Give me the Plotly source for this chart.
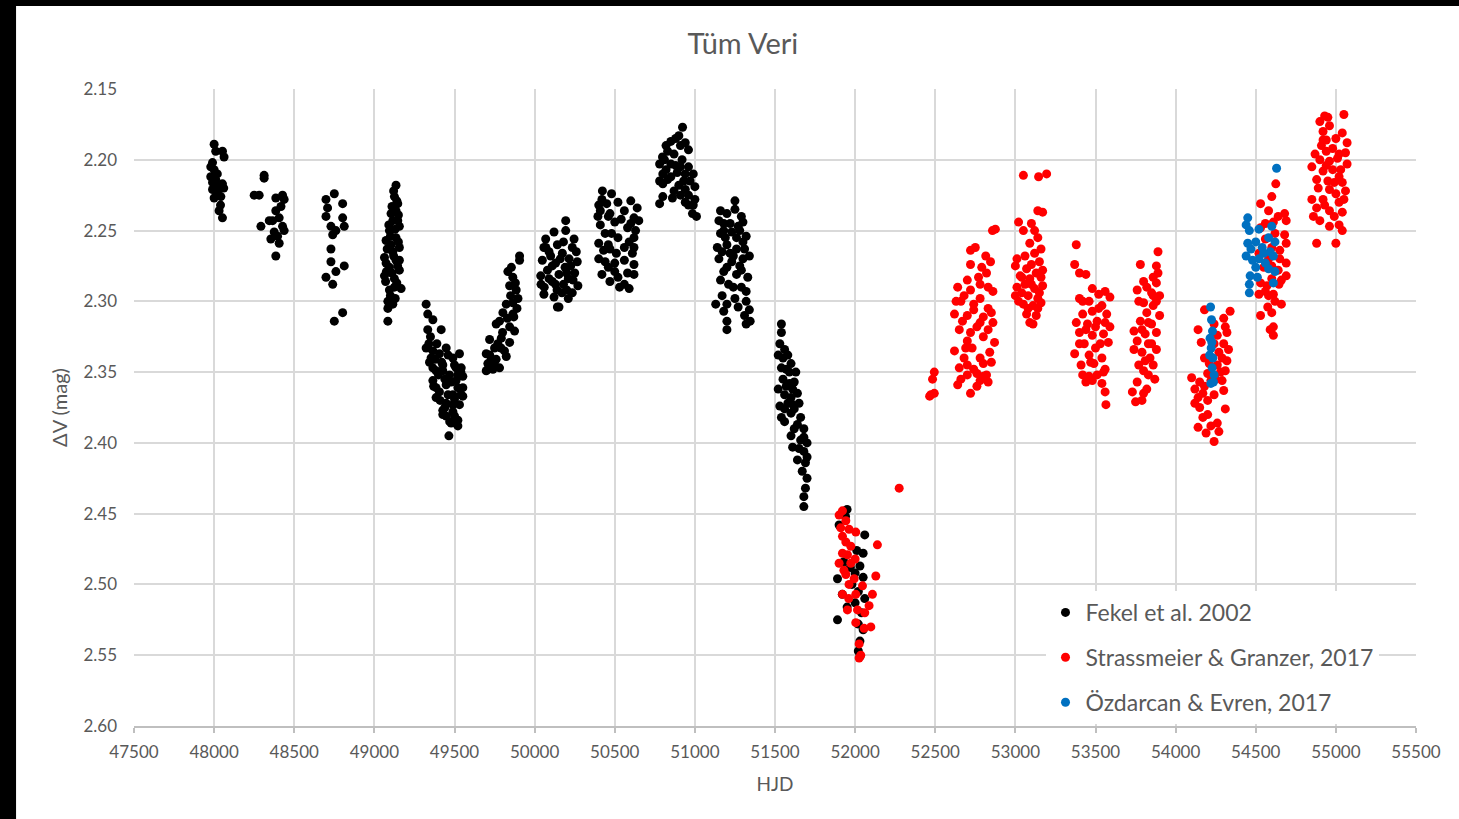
import plotly.graph_objects as go

# (HJD, delta V) pairs, season by season
fekel = [
    # ~48000
    (48000, 2.189), (48052, 2.194), (48062, 2.198), (48010, 2.194), (47990, 2.202), (47979, 2.205),
    (48000, 2.207), (47979, 2.212), (48010, 2.214), (48052, 2.217), (48031, 2.219), (47990, 2.221),
    (48021, 2.224), (48042, 2.226), (48000, 2.227), (48031, 2.236), (48052, 2.241),
    (48020, 2.210), (47990, 2.216), (48040, 2.232), (48060, 2.220),
    # ~48350
    (48250, 2.225), (48281, 2.225), (48312, 2.211), (48312, 2.213), (48292, 2.247), (48344, 2.243),
    (48354, 2.256), (48385, 2.227), (48427, 2.225), (48437, 2.228), (48385, 2.236), (48406, 2.241),
    (48427, 2.247), (48396, 2.254), (48406, 2.259), (48385, 2.268), (48365, 2.243), (48417, 2.233),
    (48375, 2.251), (48437, 2.250),
    # ~48750
    (48698, 2.228), (48750, 2.224), (48802, 2.231), (48698, 2.240), (48802, 2.241), (48729, 2.247),
    (48812, 2.247), (48740, 2.253), (48729, 2.263), (48729, 2.272), (48812, 2.275), (48760, 2.279),
    (48698, 2.283), (48740, 2.288), (48750, 2.314), (48802, 2.308), (48708, 2.234), (48760, 2.250),
    # ~49100
    (49135, 2.218), (49125, 2.226), (49135, 2.236), (49115, 2.243), (49156, 2.247), (49094, 2.250),
    (49135, 2.255), (49073, 2.257), (49156, 2.262), (49115, 2.265), (49063, 2.269), (49135, 2.271),
    (49094, 2.276), (49156, 2.278), (49063, 2.282), (49125, 2.284), (49167, 2.291), (49094, 2.292),
    (49084, 2.300), (49115, 2.302), (49084, 2.305), (49084, 2.314), (49146, 2.243), (49104, 2.238),
    (49156, 2.271), (49073, 2.273), (49125, 2.290), (49104, 2.260), (49146, 2.231),
    (49120, 2.222), (49140, 2.229), (49110, 2.233), (49150, 2.239), (49090, 2.246), (49130, 2.249),
    (49100, 2.254), (49150, 2.258), (49080, 2.263), (49120, 2.268), (49145, 2.275), (49075, 2.279),
    (49110, 2.280), (49140, 2.287), (49100, 2.296), (49130, 2.298), (49070, 2.286),
    # ~49450
    (49323, 2.302), (49333, 2.309), (49365, 2.313), (49333, 2.320), (49417, 2.320),
    (49323, 2.333), (49365, 2.335), (49448, 2.333), (49406, 2.337), (49490, 2.340), (49531, 2.337),
    (49344, 2.343), (49427, 2.345), (49510, 2.347), (49385, 2.349), (49469, 2.352), (49552, 2.353),
    (49365, 2.356), (49448, 2.359), (49521, 2.361), (49406, 2.364), (49490, 2.366), (49552, 2.367),
    (49385, 2.368), (49448, 2.372), (49531, 2.373), (49427, 2.377), (49490, 2.378), (49448, 2.381),
    (49521, 2.384), (49479, 2.386), (49521, 2.388), (49465, 2.395), (49354, 2.340), (49427, 2.349),
    (49542, 2.347), (49385, 2.361), (49510, 2.356), (49427, 2.380), (49365, 2.347), (49490, 2.373),
    (49552, 2.361),
    (49340, 2.330), (49380, 2.341), (49420, 2.343), (49460, 2.338), (49500, 2.345), (49540, 2.350),
    (49400, 2.352), (49440, 2.355), (49480, 2.357), (49520, 2.352), (49370, 2.360), (49410, 2.370),
    (49460, 2.366), (49500, 2.369), (49540, 2.366), (49440, 2.375), (49470, 2.385), (49500, 2.381),
    (49350, 2.325), (49390, 2.330),
    # ~49800
    (49906, 2.268), (49906, 2.271), (49833, 2.279), (49864, 2.283), (49844, 2.289), (49885, 2.292),
    (49896, 2.298), (49823, 2.302), (49802, 2.308), (49864, 2.309), (49760, 2.316), (49844, 2.318),
    (49875, 2.321), (49719, 2.327), (49792, 2.326), (49844, 2.329), (49750, 2.333), (49812, 2.335),
    (49698, 2.337), (49760, 2.341), (49708, 2.344), (49781, 2.347), (49698, 2.349), (49740, 2.348),
    (49823, 2.339), (49781, 2.314), (49864, 2.301), (49729, 2.342),
    (49720, 2.338), (49770, 2.330), (49800, 2.322), (49830, 2.312), (49850, 2.296), (49880, 2.287),
    (49710, 2.348), (49750, 2.345), (49790, 2.333), (49870, 2.311), (49890, 2.305), (49855, 2.276),
    # ~50150
    (50194, 2.243), (50121, 2.251), (50069, 2.256), (50194, 2.250), (50246, 2.256), (50058, 2.262),
    (50142, 2.260), (50235, 2.262), (50100, 2.268), (50173, 2.266), (50215, 2.270), (50266, 2.272),
    (50048, 2.271), (50131, 2.273), (50190, 2.276), (50080, 2.278), (50250, 2.280), (50152, 2.281),
    (50038, 2.282), (50210, 2.284), (50110, 2.286), (50270, 2.289), (50060, 2.290), (50180, 2.288),
    (50140, 2.292), (50235, 2.294), (50058, 2.295), (50121, 2.297), (50152, 2.304), (50142, 2.304),
    (50090, 2.265), (50225, 2.275),
    (50070, 2.262), (50110, 2.275), (50160, 2.270), (50200, 2.280), (50240, 2.285), (50090, 2.284),
    (50130, 2.288), (50170, 2.294), (50210, 2.298), (50260, 2.265), (50040, 2.288), (50180, 2.258),
    (50200, 2.292),
    # ~50500
    (50423, 2.222), (50480, 2.224), (50600, 2.229), (50400, 2.232), (50450, 2.231), (50520, 2.230),
    (50640, 2.234), (50395, 2.240), (50470, 2.238), (50560, 2.236), (50620, 2.241), (50410, 2.246),
    (50500, 2.244), (50580, 2.248), (50440, 2.252), (50630, 2.250), (50520, 2.255), (50400, 2.259),
    (50460, 2.260), (50590, 2.258), (50620, 2.255), (50430, 2.264), (50510, 2.266), (50400, 2.270),
    (50560, 2.271), (50460, 2.276), (50620, 2.274), (50420, 2.281), (50520, 2.283), (50620, 2.281),
    (50470, 2.286), (50560, 2.288), (50590, 2.291), (50500, 2.279),
    (50420, 2.228), (50460, 2.240), (50540, 2.242), (50600, 2.245), (50480, 2.252), (50560, 2.262),
    (50610, 2.266), (50440, 2.272), (50500, 2.273), (50580, 2.280), (50410, 2.236), (50650, 2.243),
    (50470, 2.263), (50530, 2.290), (50620, 2.262),
    # ~50900
    (50923, 2.177), (50850, 2.187), (50900, 2.183), (50960, 2.193), (50798, 2.198), (50830, 2.194),
    (50870, 2.196), (50920, 2.200), (50780, 2.203), (50960, 2.205), (50820, 2.207), (50890, 2.209),
    (50990, 2.210), (50850, 2.212), (50800, 2.217), (50930, 2.215), (51000, 2.219), (50870, 2.222),
    (50800, 2.226), (50960, 2.225), (50780, 2.231), (50940, 2.230), (50990, 2.232), (50985, 2.238),
    (51010, 2.240), (50880, 2.204), (50940, 2.221), (50820, 2.190), (50910, 2.190),
    (50880, 2.185), (50940, 2.188), (50810, 2.200), (50850, 2.203), (50910, 2.205), (50940, 2.210),
    (50830, 2.214), (50900, 2.218), (50970, 2.215), (50860, 2.227), (50910, 2.225), (50800, 2.210),
    (50780, 2.215), (50960, 2.232), (51000, 2.228),
    # ~51250
    (51250, 2.229), (51160, 2.236), (51200, 2.238), (51250, 2.235), (51290, 2.240), (51180, 2.245),
    (51270, 2.247), (51300, 2.244), (51160, 2.252), (51230, 2.251), (51320, 2.254), (51140, 2.262),
    (51200, 2.260), (51260, 2.263), (51300, 2.258), (51150, 2.270), (51230, 2.272), (51300, 2.270),
    (51340, 2.268), (51180, 2.279), (51260, 2.281), (51330, 2.283), (51210, 2.288), (51290, 2.290),
    (51170, 2.296), (51250, 2.298), (51320, 2.300), (51130, 2.302), (51200, 2.302), (51340, 2.306),
    (51310, 2.310), (51345, 2.314), (51200, 2.314), (51200, 2.320), (51320, 2.316), (51280, 2.275),
    (51220, 2.266), (51190, 2.255),
    (51180, 2.250), (51220, 2.245), (51260, 2.255), (51170, 2.265), (51240, 2.268), (51310, 2.263),
    (51200, 2.276), (51290, 2.278), (51160, 2.285), (51240, 2.290), (51320, 2.293), (51180, 2.307),
    (51270, 2.304), (51150, 2.243), (51280, 2.250),
    # ~51600
    (51540, 2.316), (51540, 2.322), (51530, 2.330), (51560, 2.334), (51580, 2.338), (51520, 2.338),
    (51600, 2.344), (51570, 2.348), (51630, 2.350), (51550, 2.355), (51590, 2.358), (51620, 2.357),
    (51520, 2.362), (51560, 2.366), (51600, 2.368), (51640, 2.365), (51530, 2.374), (51580, 2.372),
    (51620, 2.376), (51540, 2.382), (51600, 2.379), (51660, 2.382), (51640, 2.387), (51680, 2.390),
    (51600, 2.395), (51660, 2.398), (51700, 2.400), (51680, 2.406), (51640, 2.412), (51690, 2.414),
    (51670, 2.420), (51700, 2.425), (51690, 2.432), (51680, 2.438), (51680, 2.445), (51610, 2.403),
    (51560, 2.385),
    (51550, 2.340), (51590, 2.350), (51540, 2.347), (51570, 2.360), (51610, 2.362), (51600, 2.372),
    (51560, 2.376), (51650, 2.372), (51620, 2.390), (51680, 2.396), (51650, 2.404), (51700, 2.410),
    # ~52000
    (51950, 2.447), (51940, 2.452), (52060, 2.465), (51900, 2.458), (52010, 2.476), (52050, 2.478),
    (51970, 2.488), (52030, 2.487), (51890, 2.496), (52050, 2.495), (51980, 2.500), (52020, 2.505),
    (51920, 2.507), (52060, 2.510), (52000, 2.513), (52040, 2.520), (51950, 2.516), (51890, 2.525),
    (52020, 2.528), (52050, 2.532), (52030, 2.540), (52020, 2.547), (52030, 2.551), (51930, 2.484),
    (52000, 2.492),
]

strassmeier = [
    # ~52000
    (51921, 2.448), (51900, 2.451), (51942, 2.455), (51910, 2.460), (51962, 2.461), (52004, 2.463),
    (51921, 2.466), (51942, 2.470), (51973, 2.473), (51921, 2.478), (51952, 2.479), (51900, 2.485),
    (51973, 2.485), (51942, 2.493), (51994, 2.496), (51962, 2.500), (52046, 2.501), (51921, 2.507),
    (52004, 2.507), (52108, 2.507), (51952, 2.518), (52015, 2.518), (52087, 2.515), (52004, 2.527),
    (52056, 2.531), (52098, 2.530), (52025, 2.542), (52035, 2.550), (52025, 2.552), (52129, 2.494),
    (52139, 2.472), (52275, 2.432),
    (51930, 2.490), (51960, 2.510), (52000, 2.482), (52060, 2.520),
    # ~52500
    (52494, 2.350), (52483, 2.355), (52473, 2.366), (52494, 2.365), (52465, 2.367),
    # ~52750
    (52857, 2.250), (52875, 2.249), (52720, 2.264), (52815, 2.268), (52720, 2.274), (52845, 2.272),
    (52700, 2.285), (52770, 2.283), (52820, 2.280), (52830, 2.290), (52640, 2.290), (52720, 2.292),
    (52780, 2.298), (52860, 2.293), (52660, 2.300), (52740, 2.302), (52830, 2.305), (52620, 2.309),
    (52700, 2.310), (52800, 2.311), (52850, 2.308), (52650, 2.320), (52760, 2.318), (52830, 2.320),
    (52700, 2.328), (52800, 2.325), (52870, 2.329), (52620, 2.335), (52730, 2.333), (52840, 2.336),
    (52680, 2.340), (52780, 2.340), (52650, 2.347), (52740, 2.348), (52800, 2.344), (52700, 2.352),
    (52760, 2.351), (52820, 2.352), (52640, 2.359), (52760, 2.360), (52830, 2.357), (52720, 2.365),
    (52750, 2.262), (52790, 2.276),
    (52680, 2.296), (52740, 2.306), (52780, 2.315), (52670, 2.314), (52720, 2.322), (52860, 2.315),
    (52700, 2.345), (52850, 2.343), (52780, 2.356), (52690, 2.333), (52780, 2.288), (52630, 2.300),
    (52800, 2.353), (52660, 2.355),
    # ~53100
    (53050, 2.211), (53145, 2.212), (53195, 2.210), (53140, 2.236), (53170, 2.237), (53020, 2.244),
    (53100, 2.245), (53050, 2.250), (53140, 2.255), (53090, 2.259), (53160, 2.263), (53060, 2.268),
    (53120, 2.266), (53150, 2.272), (53000, 2.275), (53070, 2.277), (53130, 2.280), (53040, 2.283),
    (53090, 2.284), (53160, 2.283), (53010, 2.290), (53060, 2.288), (53120, 2.291), (53170, 2.289),
    (53000, 2.296), (53080, 2.296), (53140, 2.298), (53050, 2.302), (53110, 2.303), (53160, 2.301),
    (53070, 2.309), (53130, 2.310), (53090, 2.315), (53110, 2.316), (53040, 2.294),
    (53030, 2.282), (53100, 2.274), (53150, 2.294), (53020, 2.300), (53100, 2.288), (53080, 2.305),
    (53140, 2.305), (53010, 2.270), (53120, 2.250), (53170, 2.278),
    # ~53450
    (53380, 2.260), (53370, 2.274), (53400, 2.280), (53440, 2.281), (53480, 2.291), (53560, 2.293),
    (53520, 2.295), (53400, 2.298), (53460, 2.300), (53590, 2.297), (53540, 2.303), (53480, 2.307),
    (53420, 2.309), (53570, 2.309), (53380, 2.315), (53450, 2.316), (53510, 2.314), (53590, 2.318),
    (53400, 2.322), (53480, 2.324), (53550, 2.323), (53430, 2.330), (53500, 2.333), (53580, 2.329),
    (53370, 2.337), (53460, 2.338), (53540, 2.340), (53410, 2.345), (53490, 2.344), (53560, 2.348),
    (53460, 2.353), (53510, 2.352), (53440, 2.357), (53480, 2.356), (53560, 2.364), (53565, 2.373),
    (53550, 2.350),
    (53420, 2.300), (53520, 2.305), (53440, 2.320), (53530, 2.330), (53400, 2.330), (53470, 2.343),
    (53540, 2.358), (53500, 2.318), (53560, 2.315), (53420, 2.352),
    # ~53800
    (53890, 2.265), (53780, 2.274), (53880, 2.275), (53890, 2.280), (53800, 2.286), (53880, 2.287),
    (53760, 2.292), (53850, 2.294), (53900, 2.296), (53800, 2.301), (53860, 2.303), (53820, 2.308),
    (53900, 2.310), (53780, 2.314), (53850, 2.316), (53740, 2.321), (53810, 2.323), (53880, 2.322),
    (53760, 2.328), (53830, 2.330), (53740, 2.334), (53790, 2.336), (53880, 2.334), (53810, 2.342),
    (53860, 2.345), (53800, 2.349), (53830, 2.352), (53760, 2.357), (53870, 2.355), (53730, 2.364),
    (53800, 2.365), (53750, 2.371), (53790, 2.370), (53840, 2.340),
    (53820, 2.290), (53860, 2.296), (53830, 2.315), (53790, 2.320), (53850, 2.330), (53770, 2.345),
    (53820, 2.362), (53770, 2.300), (53880, 2.300), (53860, 2.283),
    # ~54200
    (54180, 2.306), (54340, 2.307), (54300, 2.312), (54240, 2.316), (54140, 2.320), (54320, 2.322),
    (54260, 2.324), (54160, 2.329), (54300, 2.330), (54330, 2.334), (54270, 2.336), (54180, 2.340),
    (54320, 2.342), (54260, 2.345), (54310, 2.349), (54200, 2.351), (54100, 2.354), (54150, 2.357),
    (54220, 2.356), (54120, 2.362), (54180, 2.360), (54300, 2.363), (54140, 2.368), (54200, 2.370),
    (54150, 2.375), (54310, 2.376), (54170, 2.382), (54260, 2.386), (54220, 2.388), (54140, 2.389),
    (54190, 2.393), (54270, 2.392), (54240, 2.399), (54280, 2.350), (54240, 2.366),
    (54240, 2.330), (54290, 2.340), (54210, 2.344), (54250, 2.355), (54170, 2.365), (54120, 2.372),
    (54290, 2.356), (54200, 2.380), (54310, 2.318),
    # ~54600
    (54625, 2.217), (54600, 2.226), (54530, 2.231), (54580, 2.236), (54680, 2.238), (54690, 2.243),
    (54610, 2.244), (54530, 2.248), (54680, 2.253), (54560, 2.256), (54690, 2.259), (54600, 2.262),
    (54650, 2.264), (54520, 2.266), (54580, 2.270), (54690, 2.273), (54550, 2.276), (54640, 2.278),
    (54600, 2.284), (54530, 2.287), (54645, 2.288), (54560, 2.293), (54610, 2.295), (54620, 2.300),
    (54575, 2.304), (54660, 2.302), (54530, 2.310), (54600, 2.308), (54610, 2.318), (54590, 2.320),
    (54610, 2.324), (54690, 2.282),
    (54560, 2.245), (54620, 2.252), (54650, 2.270), (54600, 2.275), (54660, 2.285), (54570, 2.289),
    (54640, 2.240), (54520, 2.295), (54580, 2.296),
    # ~54950
    (54930, 2.169), (54950, 2.170), (55050, 2.168), (54900, 2.173), (54960, 2.176), (54920, 2.180),
    (55040, 2.181), (54940, 2.186), (55000, 2.185), (55070, 2.188), (54870, 2.196), (54940, 2.194),
    (55060, 2.195), (54900, 2.200), (54960, 2.201), (55010, 2.199), (55070, 2.203), (54850, 2.205),
    (54920, 2.208), (54980, 2.207), (55020, 2.212), (54880, 2.214), (54950, 2.215), (55040, 2.216),
    (54960, 2.221), (55000, 2.224), (55060, 2.222), (54850, 2.228), (54920, 2.228), (55020, 2.230),
    (54880, 2.234), (54960, 2.236), (55040, 2.237), (54900, 2.243), (54960, 2.247), (55020, 2.246),
    (54880, 2.259), (55000, 2.259), (54990, 2.240), (54910, 2.190),
    (54920, 2.186), (54980, 2.192), (55020, 2.196), (54890, 2.220), (54930, 2.232), (55050, 2.228),
    (54990, 2.216), (54940, 2.204), (55030, 2.207), (54860, 2.240), (55040, 2.250),
]

ozdarcan = [
    # ~54230
    (54218, 2.304), (54224, 2.313), (54230, 2.321), (54215, 2.326), (54222, 2.333), (54232, 2.340),
    (54228, 2.347), (54240, 2.352), (54220, 2.358), (54236, 2.357), (54212, 2.338), (54226, 2.329),
    # ~54500
    (54630, 2.206), (54450, 2.241), (54440, 2.246), (54460, 2.250), (54520, 2.249), (54600, 2.247),
    (54580, 2.255), (54450, 2.259), (54500, 2.258), (54620, 2.258), (54470, 2.263), (54540, 2.262),
    (54590, 2.265), (54440, 2.268), (54480, 2.271), (54520, 2.270), (54560, 2.273), (54610, 2.268),
    (54500, 2.276), (54580, 2.277), (54465, 2.282), (54620, 2.279), (54460, 2.288), (54610, 2.287),
    (54460, 2.294), (54550, 2.266), (54510, 2.283),
]

series = [
    ("Fekel et al. 2002", fekel, "#000000"),
    ("Strassmeier & Granzer, 2017", strassmeier, "#FF0000"),
    ("Özdarcan & Evren, 2017", ozdarcan, "#0070C0"),
]

FONT = "Lato"
GREY = "#595959"

fig = go.Figure()
for i, (name, pts, col) in enumerate(series):
    fig.add_trace(go.Scatter(
        x=[p[0] for p in pts], y=[p[1] for p in pts],
        mode="markers", name=name, legendgroup="g%d" % i,
        marker=dict(color=col, size=9, line=dict(width=0)),
    ))

fig.update_layout(
    width=1459, height=819,
    margin=dict(l=134, r=43, t=89, b=93),
    paper_bgcolor="white", plot_bgcolor="white",
    font=dict(family=FONT, color=GREY),
    title=dict(text="Tüm Veri", x=0.475, xref="paper", xanchor="center",
               y=0.9463, yanchor="middle", font=dict(size=29, color=GREY)),
    legend=dict(x=0.711, y=0.212, xanchor="left", yanchor="top",
                bgcolor="white", font=dict(size=23, color=GREY),
                traceorder="grouped", tracegroupgap=12, itemwidth=30),
    shapes=[
        # dark screenshot edges on the left and top
        dict(type="rect", xref="paper", yref="paper", x0=-0.2, x1=-0.0920, y0=-0.5, y1=1.5,
             fillcolor="black", line=dict(width=0), layer="above"),
        dict(type="rect", xref="paper", yref="paper", x0=-0.2, x1=1.2, y0=1.1303, y1=1.5,
             fillcolor="black", line=dict(width=0), layer="above"),
    ],
)

fig.update_xaxes(
    range=[47500, 55500], dtick=500, tick0=47500, tickformat="d",
    showgrid=True, gridcolor="#d9d9d9", gridwidth=1.5,
    showline=True, linecolor="#bfbfbf", linewidth=1.5,
    ticks="outside", ticklen=5, tickcolor="#bfbfbf", tickwidth=1.5,
    tickfont=dict(size=17, color=GREY), ticklabelstandoff=5,
    title=dict(text="HJD", font=dict(size=19, color=GREY), standoff=17),
    zeroline=False,
)
fig.update_yaxes(
    range=[2.60, 2.15], dtick=0.05, tick0=2.15, tickformat=".2f",
    showgrid=True, gridcolor="#d9d9d9", gridwidth=1.5,
    showline=False, ticks="", ticklabelstandoff=16,
    tickfont=dict(size=17, color=GREY),
    title=dict(text="ΔV (mag)", font=dict(size=20, color=GREY), standoff=10),
    zeroline=False,
)

# drop the default 8px page margin so the figure sits at the window origin
fig.write_html("out.html", config={"displayModeBar": False},
               post_script="document.body.style.margin='0';")
